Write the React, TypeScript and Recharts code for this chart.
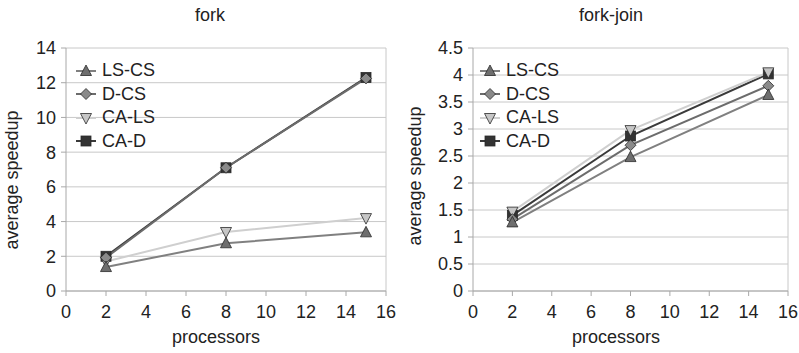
import React from 'react'
import {
  LineChart,
  Line,
  XAxis,
  YAxis,
  CartesianGrid,
  Legend,
  Label,
  ReferenceLine,
} from 'recharts'

// processors on the x axis
const processors = [2, 8, 15]
const xTicks = [0, 2, 4, 6, 8, 10, 12, 14, 16]

// fork
const forkLsCs = [1.38, 2.75, 3.38]
const forkDCs = [1.92, 7.1, 12.25]
const forkCaLs = [1.7, 3.4, 4.2]
const forkCaD = [2.0, 7.1, 12.3]
const forkYTicks = [0, 2, 4, 6, 8, 10, 12, 14]

// fork-join
const joinLsCs = [1.27, 2.48, 3.63]
const joinDCs = [1.33, 2.7, 3.8]
const joinCaLs = [1.47, 2.98, 4.05]
const joinCaD = [1.4, 2.87, 4.02]
const joinYTicks = [0, 0.5, 1, 1.5, 2, 2.5, 3, 3.5, 4, 4.5]

const seriesNames = ['LS-CS', 'D-CS', 'CA-LS', 'CA-D']

type Shape = 'up' | 'diamond' | 'down' | 'square'

const seriesStyle: { key: string; line: string; fill: string; shape: Shape }[] = [
  { key: 'lsCs', line: '#808080', fill: '#6e6e6e', shape: 'up' },
  { key: 'dCs', line: '#6c6c6c', fill: '#8a8a8a', shape: 'diamond' },
  { key: 'caLs', line: '#cfcfcf', fill: '#c6c6c6', shape: 'down' },
  { key: 'caD', line: '#3a3a3a', fill: '#333333', shape: 'square' },
]

const buildRows = (ls: number[], d: number[], ca: number[], cad: number[]) =>
  processors.map((p, i) => ({ p, lsCs: ls[i], dCs: d[i], caLs: ca[i], caD: cad[i] }))

const forkData = buildRows(forkLsCs, forkDCs, forkCaLs, forkCaD)
const joinData = buildRows(joinLsCs, joinDCs, joinCaLs, joinCaD)

const TEXT = '#222'
const FONT = 18

function Marker({ cx, cy, shape, fill }: { cx: number; cy: number; shape: Shape; fill: string }) {
  const s = { fill, stroke: '#2a2a2a', strokeWidth: 0.8 }
  if (shape === 'up')
    return <polygon points={`${cx},${cy - 6} ${cx - 5.5},${cy + 4.5} ${cx + 5.5},${cy + 4.5}`} {...s} />
  if (shape === 'down')
    return <polygon points={`${cx},${cy + 6} ${cx - 5.5},${cy - 4.5} ${cx + 5.5},${cy - 4.5}`} {...s} />
  if (shape === 'diamond')
    return <polygon points={`${cx},${cy - 5.5} ${cx + 5.5},${cy} ${cx},${cy + 5.5} ${cx - 5.5},${cy}`} {...s} />
  return <rect x={cx - 5} y={cy - 5} width={10} height={10} {...s} />
}

const renderLegend = () => (
  <div style={{ display: 'flex', flexDirection: 'column' }}>
    {seriesStyle.map((st, i) => (
      <div
        key={st.key}
        style={{ display: 'flex', alignItems: 'center', height: 23.5, fontSize: FONT, color: TEXT }}
      >
        <svg width={26} height={14} style={{ display: 'block' }}>
          <line x1={0} y1={7} x2={20} y2={7} stroke={st.line} strokeWidth={2} />
          <Marker cx={10} cy={7} shape={st.shape} fill={st.fill} />
        </svg>
        <span>{seriesNames[i]}</span>
      </div>
    ))}
  </div>
)

interface PanelProps {
  left: number
  title: string
  data: { p: number; lsCs: number; dCs: number; caLs: number; caD: number }[]
  yMax: number
  yTicks: number[]
  yAxisWidth: number
  marginLeft: number
  marginRight: number
  yLabelX: number
  yLabelY: number
  xLabelX: number
  titleX: number
  legendLeft: number
}

function Panel(props: PanelProps) {
  const { data, yMax, yTicks } = props
  return (
    <div style={{ position: 'absolute', left: props.left, top: 0, width: 400, height: 353 }}>
      <div
        style={{
          position: 'absolute',
          top: 6,
          left: props.titleX - 100,
          width: 200,
          textAlign: 'center',
          fontSize: FONT,
          lineHeight: '18px',
          color: TEXT,
        }}
      >
        {props.title}
      </div>
      <LineChart
        width={400}
        height={353}
        data={data}
        margin={{ top: 48, right: props.marginRight, bottom: 12, left: props.marginLeft }}
        style={{ fontSize: FONT }}
      >
        <CartesianGrid vertical={false} stroke="#c8c8c8" />
        <ReferenceLine x={16} stroke="#c8c8c8" />
        <XAxis
          type="number"
          dataKey="p"
          domain={[0, 16]}
          ticks={xTicks}
          interval={0}
          height={50}
          stroke="#a8a8a8"
          tickSize={5}
          tickMargin={9}
          fontSize={FONT}
          tick={{ fill: TEXT, fontSize: FONT }}
        >
          <Label
            content={() => (
              <text x={props.xLabelX} y={343} textAnchor="middle" fill={TEXT} fontSize={FONT}>
                processors
              </text>
            )}
          />
        </XAxis>
        <YAxis
          domain={[0, yMax]}
          ticks={yTicks}
          interval={0}
          width={props.yAxisWidth}
          stroke="#a8a8a8"
          tickSize={5}
          tickMargin={5}
          fontSize={FONT}
          tick={{ fill: TEXT, fontSize: FONT }}
        >
          <Label
            content={() => (
              <text
                x={props.yLabelX}
                y={props.yLabelY}
                transform={`rotate(-90 ${props.yLabelX} ${props.yLabelY})`}
                textAnchor="middle"
                fill={TEXT}
                fontSize={FONT}
              >
                average speedup
              </text>
            )}
          />
        </YAxis>
        {[...seriesStyle].reverse().map((st) => (
          <Line
            key={st.key}
            dataKey={st.key}
            name={seriesNames[seriesStyle.indexOf(st)]}
            stroke={st.line}
            strokeWidth={2}
            isAnimationActive={false}
            dot={(d: any) => (
              <Marker key={`${st.key}-${d.index}`} cx={d.cx} cy={d.cy} shape={st.shape} fill={st.fill} />
            )}
            activeDot={false}
          />
        ))}
        <Legend
          layout="vertical"
          align="center"
          verticalAlign="middle"
          content={renderLegend}
          wrapperStyle={{ left: props.legendLeft, top: 59, width: 110 }}
        />
      </LineChart>
    </div>
  )
}

export default function App() {
  return (
    <div
      style={{
        position: 'absolute',
        left: 0,
        top: 0,
        width: 799,
        height: 353,
        background: '#fff',
        fontFamily: '"Liberation Sans", Arial, sans-serif',
      }}
    >
      <Panel
        left={0}
        title="fork"
        data={forkData}
        yMax={14}
        yTicks={forkYTicks}
        yAxisWidth={50}
        marginLeft={16}
        marginRight={14}
        yLabelX={18}
        yLabelY={180}
        xLabelX={216}
        titleX={210}
        legendLeft={76}
      />
      <Panel
        left={400}
        title="fork-join"
        data={joinData}
        yMax={4.5}
        yTicks={joinYTicks}
        yAxisWidth={60}
        marginLeft={13}
        marginRight={12}
        yLabelX={21}
        yLabelY={176}
        xLabelX={216}
        titleX={211}
        legendLeft={80}
      />
    </div>
  )
}
